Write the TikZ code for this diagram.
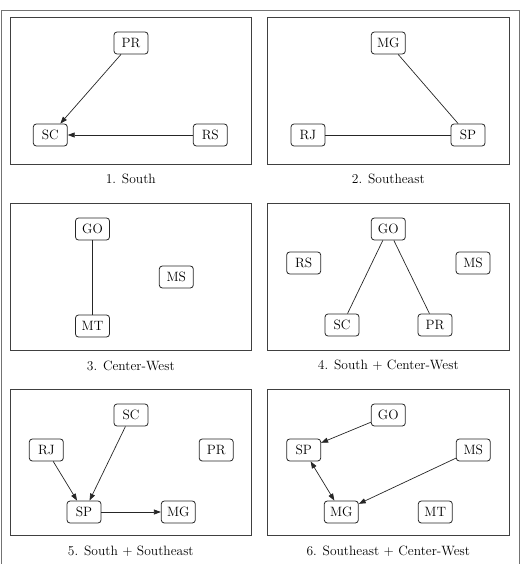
\documentclass[tikz,border=0pt]{standalone}
\usetikzlibrary{arrows.meta}
\begin{document}
\begin{tikzpicture}[x=1pt,y=-1pt,
  st/.style={draw=black!85, rounded corners=3pt, minimum width=34pt, minimum height=22pt, inner sep=0pt, font=\fontsize{13.5}{15}\selectfont, line width=0.8pt},
  panel/.style={draw=black!75, line width=0.9pt},
  outer/.style={draw=black!55, line width=1pt},
  captext/.style={font=\fontsize{13.5}{15}\selectfont},
  con/.style={line width=0.7pt, draw=black!85},
  arr/.style={con, -{Triangle[length=7pt,width=5pt]}},
  darr/.style={con, {Triangle[length=7pt,width=5pt]}-{Triangle[length=7pt,width=5pt]}}]
\useasboundingbox (0,0) rectangle (520,564);
% outer frame
\draw[outer] (1,570) -- (1,11) -- (519,11) -- (519,570);
% panels
\draw[panel] (10,17.7) rectangle (251.7,164);
\draw[panel] (267.3,17.7) rectangle (509.3,164);
\draw[panel] (10,203.3) rectangle (251.7,350.3);
\draw[panel] (267.3,203.3) rectangle (509.3,350.3);
\draw[panel] (10,389.3) rectangle (251.7,535.7);
\draw[panel] (267.3,389.3) rectangle (509.3,535.7);
% captions
\node[captext] (c1) at (130.8,179) {1. South};
\node[captext] (c2) at (388.3,179) {2. Southeast};
\node[captext] (c3) at (130.8,365.5) {3. Center-West};
\node[captext] (c4) at (388.3,365.5) {4. South + Center-West};
\node[captext] (c5) at (130.8,551.5) {5. South + Southeast};
\node[captext] (c6) at (388.3,551.5) {6. Southeast + Center-West};
% panel 1
\node[st] (p1PR) at (131,43) {PR};
\node[st] (p1SC) at (50.3,135) {SC};
\node[st] (p1RS) at (210.3,135) {RS};
\draw[arr] (p1PR) -- (p1SC);
\draw[arr] (p1RS) -- (p1SC);
% panel 2
\node[st] (p2MG) at (388.3,43) {MG};
\node[st] (p2RJ) at (308,135) {RJ};
\node[st] (p2SP) at (468,135) {SP};
\draw[con] (p2MG) -- (p2SP);
\draw[con] (p2RJ) -- (p2SP);
% panel 3
\node[st] (p3GO) at (92.5,229) {GO};
\node[st] (p3MS) at (176.3,277) {MS};
\node[st] (p3MT) at (92.5,326) {MT};
\draw[con] (p3GO) -- (p3MT);
% panel 4
\node[st] (p4GO) at (388.3,229) {GO};
\node[st] (p4RS) at (303.7,263) {RS};
\node[st] (p4MS) at (473,263) {MS};
\node[st] (p4SC) at (342,325) {SC};
\node[st] (p4PR) at (435,325) {PR};
\draw[con] (p4GO) -- (p4SC);
\draw[con] (p4GO) -- (p4PR);
% panel 5
\node[st] (p5SC) at (131,415) {SC};
\node[st] (p5RJ) at (46.3,450) {RJ};
\node[st] (p5PR) at (216.2,450) {PR};
\node[st] (p5SP) at (84,512) {SP};
\node[st] (p5MG) at (178.3,512) {MG};
\draw[arr] (p5RJ) -- (p5SP);
\draw[arr] (p5SC) -- (p5SP);
\draw[arr] (p5SP) -- (p5MG);
% panel 6
\node[st] (p6GO) at (388.3,415) {GO};
\node[st] (p6SP) at (303.7,450) {SP};
\node[st] (p6MS) at (473.3,450) {MS};
\node[st] (p6MG) at (341.3,512) {MG};
\node[st] (p6MT) at (435.3,512) {MT};
\draw[arr] (p6GO) -- (p6SP);
\draw[darr] (p6SP) -- (p6MG);
\draw[arr] (p6MS) -- (p6MG);
\end{tikzpicture}
\end{document}
